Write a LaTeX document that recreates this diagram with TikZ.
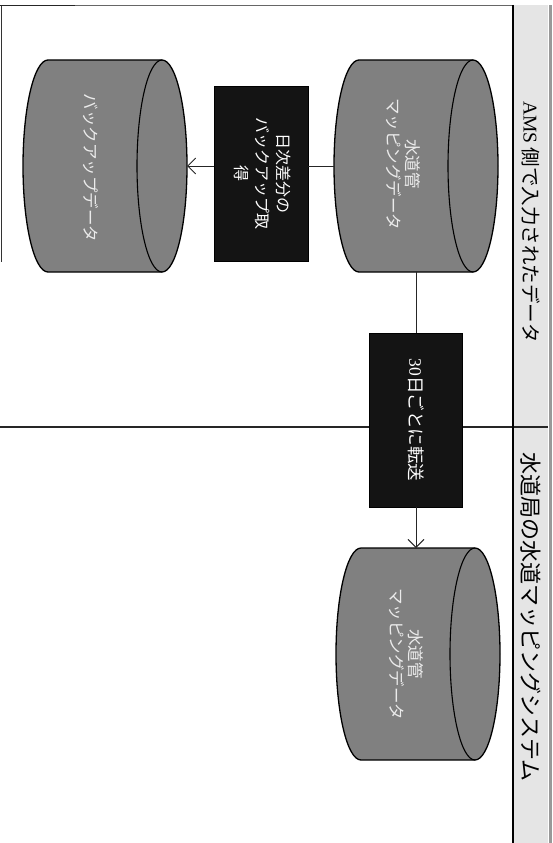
\documentclass[tikz,border=0pt]{standalone}
\usepackage{fontspec}
\usepackage{graphicx}
\setmainfont{Liberation Serif}
\newfontfamily\jp{Noto Sans CJK JP}
\usetikzlibrary{arrows.meta}
\newcommand\cylshape[1]{%
  \path[cylfill] ([xshift=25pt]#1.north west) -- ([xshift=-25pt]#1.north east)
     arc[start angle=90,end angle=-90,x radius=25pt,y radius=106pt]
     -- ([xshift=25pt]#1.south west)
     arc[start angle=-90,end angle=-270,x radius=25pt,y radius=106pt] -- cycle;
  \draw[cylline] ([xshift=-25pt]#1.north east)
     arc[start angle=90,end angle=270,x radius=25pt,y radius=106pt];
}
\begin{document}
\begin{tikzpicture}[x=1pt,y=-1pt,
  cylbox/.style={minimum width=164pt, minimum height=212pt, inner sep=0pt, outer sep=0pt},
  cylfill/.style={fill=black!50, draw=black, line width=1.3pt},
  cylline/.style={draw=black, line width=1.1pt},
  cyltext/.style={rotate=-90, text=white!92!black, font=\jp\fontsize{16.5}{19}\selectfont, align=center, inner sep=0pt},
  procbox/.style={fill=black!92, draw=black, text=white, inner sep=0pt, outer sep=0pt, font=\jp\fontsize{16}{21}\selectfont},
  hdr/.style={rotate=-90, font=\jp\fontsize{19.5}{22}\selectfont, inner sep=0pt},
  conn/.style={line width=0.9pt, draw=black!85},
  arr/.style={conn, -{Straight Barb[length=8pt,width=16pt]}}
]
\useasboundingbox (0,0) rectangle (552,843);
% lane header strip
\fill[black!10] (513,5) rectangle (548,843);
\fill[black!40] (548.5,5) rectangle (552,843);
\draw[black!60, line width=1pt] (0,6) -- (513,6);
\draw[black!85, line width=1pt] (0,6) -- (75,6);
\draw[black!80, line width=1pt] (1,6) -- (1,262);
\draw[black!85, line width=1.1pt] (0,427) -- (548,427);
\draw[black, line width=1.2pt] (513,5) -- (513,843);
\node[hdr] (h1) at (531,222) {{\rmfamily AMS} 側で入力されたデータ};
\node[hdr, font=\jp\fontsize{22}{24}\selectfont] (h2) at (531,617) {水道局の水道マッピングシステム};
% cylinders
\node[cylbox] (c1) at (416,166) {};
\node[cylbox] (c2) at (105,166) {};
\node[cylbox] (c3) at (418,654) {};
\cylshape{c1}
\cylshape{c2}
\cylshape{c3}
\node[cyltext] (t1) at (403,164) {水道管\\マッピングデータ};
\node[cyltext] (t2) at (91,168) {バックアップデータ};
\node[cyltext] (t3) at (406,654) {水道管\\マッピングデータ};
% process boxes
\node[procbox, minimum width=94pt, minimum height=175pt] (b1) at (261,173.5)
  {\rotatebox{-90}{\begin{tabular}{@{}c@{}}日次差分の\\バックアップ取\\得\end{tabular}}};
\node[procbox, minimum width=93pt, minimum height=174pt, font=\jp\fontsize{17.5}{20}\selectfont] (b2) at (416,420)
  {\rotatebox{-90}{{\rmfamily 30}日ごとに転送}};
% connectors
\draw[conn] (c1.west) -- (c1.west -| b1.east);
\draw[arr] (b1.west |- c2.east) -- (c2.east);
\draw[conn] (c1.south) -- (b2.north);
\draw[arr] (b2.south) -- (b2.south |- c3.north);
\end{tikzpicture}
\end{document}
